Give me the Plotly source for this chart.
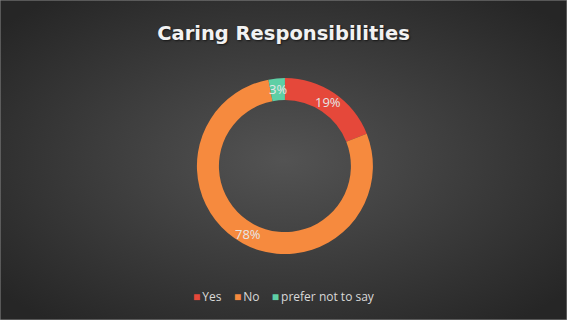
import plotly.graph_objects as go
import base64
import math

labels = ["Yes", "No", "prefer not to say"]
values = [19, 78, 3]
colors = ["#e5483a", "#f68a3e", "#5ecfa5"]

W, H = 567, 320
dom_x = [0.347, 0.658]
dom_y = [0.206, 0.756]
hole = 0.75

svg = ('<svg xmlns="http://www.w3.org/2000/svg" width="567" height="320" viewBox="0 0 567 320" preserveAspectRatio="none">'
       '<defs><radialGradient id="g" cx="50%" cy="50%" r="65%">'
       '<stop offset="0%" stop-color="#535353"/><stop offset="100%" stop-color="#262626"/>'
       '</radialGradient></defs><rect width="567" height="320" fill="url(#g)"/></svg>')
bg_src = "data:image/svg+xml;base64," + base64.b64encode(svg.encode()).decode()

fig = go.Figure()
fig.add_trace(go.Pie(
    labels=labels, values=values, sort=False, direction="clockwise", rotation=0,
    hole=hole,
    marker=dict(colors=colors, line=dict(width=0)),
    textinfo="none",
    domain=dict(x=dom_x, y=dom_y),
    hoverinfo="label+percent",
    showlegend=False,
))

# percentage labels placed at the middle of each ring segment (derived from values)
total = sum(values)
cx = (dom_x[0] + dom_x[1]) / 2
cy = (dom_y[0] + dom_y[1]) / 2
r_out_px = min((dom_x[1] - dom_x[0]) * W, (dom_y[1] - dom_y[0]) * H) / 2
r_mid_px = r_out_px * (1 + hole) / 2
annotations = []
cum = 0
for lab, v in zip(labels, values):
    mid = (cum + v / 2) / total * 2 * math.pi
    cum += v
    annotations.append(dict(
        x=cx + r_mid_px * math.sin(mid) / W, y=cy + r_mid_px * math.cos(mid) / H,
        xref="paper", yref="paper", showarrow=False,
        text=f"{round(100 * v / total)}%",
        font=dict(family="Open Sans", size=13, color="#e6e6e6"),
        xanchor="center", yanchor="middle"))

# compact legend built from labels/colors
parts = [f'<span style="color:{c}">■</span>\u2009{lab}' for lab, c in zip(labels, colors)]
legend_text = "\u00a0\u00a0\u00a0\u00a0".join(parts)
annotations.append(dict(
    x=0.5, y=0.072, xref="paper", yref="paper", showarrow=False,
    text=legend_text, xanchor="center", yanchor="middle",
    font=dict(family="Open Sans", size=12, color="#d9d9d9")))

fig.update_layout(
    width=W, height=H,
    margin=dict(l=0, r=0, t=0, b=0),
    paper_bgcolor="#3a3a3a",
    plot_bgcolor="rgba(0,0,0,0)",
    images=[dict(source=bg_src, xref="paper", yref="paper", x=0, y=1, sizex=1, sizey=1,
                 xanchor="left", yanchor="top", sizing="stretch", layer="below")],
    title=dict(text="<b>Caring Responsibilities</b>", x=0.5, xanchor="center",
               y=0.897, yanchor="middle",
               font=dict(family="DejaVu Sans", size=19.5, color="#f2f2f2",
                         shadow="1px 1px 2px rgba(0,0,0,0.6)")),
    annotations=annotations,
    shapes=[dict(type="rect", xref="paper", yref="paper", x0=0, y0=0, x1=1, y1=1,
                 line=dict(color="#8a8a8a", width=1))],
)
fig.write_html("out.html")
